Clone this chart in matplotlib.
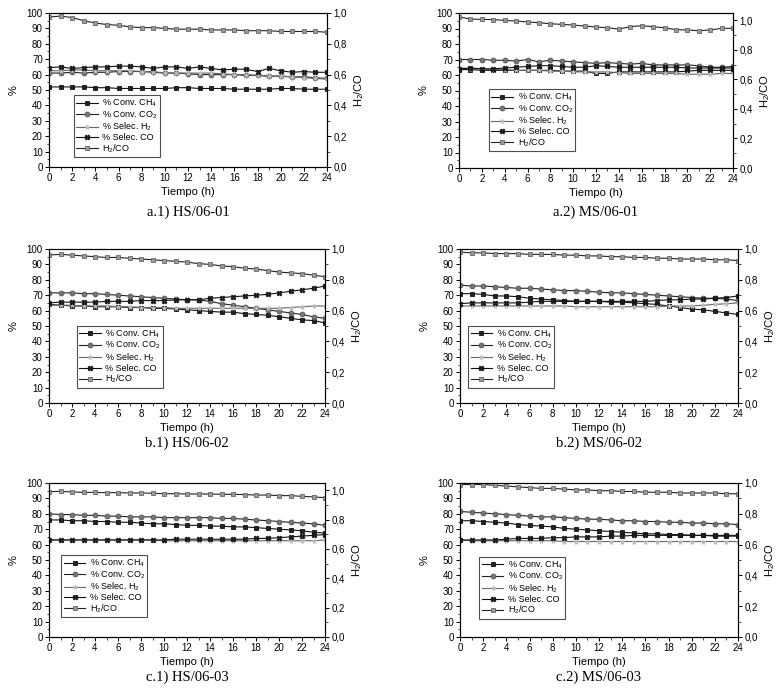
import matplotlib
matplotlib.use("Agg")
import matplotlib.pyplot as plt
from matplotlib.ticker import MultipleLocator, FuncFormatter

plt.rcParams['font.family'] = ['Liberation Sans', 'DejaVu Sans']
plt.rcParams['mathtext.fontset'] = 'custom'
plt.rcParams['mathtext.rm'] = 'Liberation Sans'
plt.rcParams['mathtext.it'] = 'Liberation Sans'

horas = list(range(25))

# a.1) HS/06-01
a1_ch4 = [52, 52, 52, 52, 51.5, 51.5, 51, 51, 51, 51, 51, 51.5, 51.5, 51, 51, 51, 50.5, 50.5, 50.5, 50.5, 51, 51, 50.5, 50.5, 50.5]
a1_co2 = [61, 61, 61.5, 61, 61.5, 61.5, 62, 62, 62, 61.5, 61, 61, 60.5, 60, 60, 60, 60, 59.5, 59.5, 59, 59, 58.5, 58.5, 58, 57.5]
a1_h2 = [62.5, 62.5, 63, 63, 62.5, 62.5, 62.5, 62.5, 62, 62, 61, 61, 61, 61, 61, 60.5, 60, 60, 59.5, 59, 59, 58.5, 58, 57.5, 57]
a1_co = [64.5, 65, 64, 64.5, 65, 65, 65.5, 65.5, 65, 64, 65, 65, 64, 65, 64, 63, 63.5, 63.5, 62, 64, 62.5, 61.5, 62, 61.5, 61.5]
a1_ratio = [0.974, 0.98, 0.97, 0.95, 0.935, 0.925, 0.92, 0.91, 0.905, 0.905, 0.90, 0.895, 0.895, 0.895, 0.89, 0.89, 0.89, 0.885, 0.885, 0.885, 0.88, 0.88, 0.88, 0.88, 0.875]

# a.2) MS/06-01
a2_ch4 = [63.5, 63.5, 63, 63, 63, 63, 63, 63, 63, 62.5, 62.5, 62.5, 61, 61, 62, 62, 62, 62, 62, 62, 62.5, 63, 63, 63, 63]
a2_co2 = [70, 70, 70, 69.5, 69.5, 69, 70, 68.5, 69.5, 69, 68.5, 68, 67.5, 68, 67.5, 67, 67.5, 66.5, 66.5, 66.5, 66.5, 66, 65, 65, 65.5]
a2_h2 = [64.5, 64, 64, 63.5, 63.5, 63, 63, 63, 62.5, 62.5, 62, 62, 62, 62, 61.5, 61, 61, 61, 61, 61, 60.5, 60.5, 60.5, 61, 61]
a2_co = [64, 64.5, 64, 64, 64.5, 65, 65.5, 66, 66, 65.5, 65, 65, 66, 65.5, 65, 65, 65, 65, 65, 65, 64.5, 64.5, 64.5, 64.5, 64.5]
a2_ratio = [1.023, 1.009, 1.007, 1.005, 1.0, 0.996, 0.989, 0.984, 0.977, 0.973, 0.968, 0.962, 0.955, 0.95, 0.941, 0.957, 0.964, 0.957, 0.95, 0.937, 0.935, 0.93, 0.935, 0.946, 0.946]

# b.1) HS/06-02
b1_ch4 = [64, 63.5, 63, 63, 62.5, 62.5, 62.5, 62, 62, 61.5, 61.5, 61, 60.5, 60, 59.5, 59, 59, 58, 57.5, 57, 56, 55, 54, 53.5, 52]
b1_co2 = [71.5, 71.5, 71.5, 71, 71, 70.5, 70, 69.5, 69, 68.5, 68, 67.5, 67, 67, 66, 64.5, 63.5, 62.5, 61.5, 60.5, 59.5, 58.5, 57.5, 56, 55]
b1_h2 = [63.5, 63.5, 63.5, 63, 63, 63, 62.5, 62.5, 62, 62, 62, 61.5, 61.5, 61.5, 61.5, 61.5, 61.5, 61.5, 61.5, 61.5, 61.5, 62, 62.5, 63, 63]
b1_co = [65, 65.5, 65.5, 65.5, 65.5, 66, 66, 66, 66.5, 66.5, 66.5, 67, 67, 67, 68, 68.5, 69, 69.5, 70, 70.5, 71.5, 72.5, 73.5, 74.5, 76]
b1_ratio = [0.961, 0.965, 0.96, 0.955, 0.95, 0.945, 0.945, 0.94, 0.935, 0.93, 0.925, 0.92, 0.915, 0.905, 0.90, 0.89, 0.885, 0.875, 0.87, 0.86, 0.85, 0.845, 0.84, 0.83, 0.82]

# b.2) MS/06-02
b2_ch4 = [71, 71, 70.5, 69.5, 69.5, 69, 68, 67.5, 67, 66.5, 66, 66, 66, 65.5, 65.5, 65, 64.5, 64, 63, 62, 61, 60.5, 59.5, 58.5, 57.5]
b2_co2 = [76.5, 76, 76, 75.5, 75, 74.5, 74.5, 74, 73.5, 73, 73, 72.5, 72, 71.5, 71.5, 71, 70.5, 70, 69.5, 69, 68.5, 68, 68, 67.5, 66.5]
b2_h2 = [63, 63, 63, 63, 63, 63, 63, 63, 63, 63, 62.5, 62.5, 62.5, 62.5, 62.5, 62.5, 62.5, 62.5, 63, 63, 63, 63.5, 64, 64.5, 65]
b2_co = [64.5, 65, 65, 65, 65, 65, 65.5, 66, 66, 66, 66, 66, 66, 66, 66, 66, 66, 66.5, 67, 67, 67.5, 67.5, 68, 68.5, 69.5]
b2_ratio = [0.98, 0.975, 0.975, 0.97, 0.97, 0.97, 0.965, 0.965, 0.965, 0.96, 0.96, 0.955, 0.955, 0.95, 0.95, 0.945, 0.945, 0.94, 0.94, 0.935, 0.935, 0.935, 0.93, 0.93, 0.925]

# c.1) HS/06-03
c1_ch4 = [76, 76, 75.5, 75.5, 75, 75, 74.5, 74.5, 74, 73.5, 73.5, 73, 72.5, 72.5, 72, 72, 71.5, 71.5, 71, 70.5, 70, 69.5, 69, 68, 67.5]
c1_co2 = [80, 79.5, 79.5, 79, 79, 78.5, 78.5, 78, 78, 78, 77.5, 77.5, 77.5, 77.5, 77.5, 77, 77, 76.5, 76, 75.5, 75, 74.5, 74, 73.5, 72.5]
c1_h2 = [63, 63, 63, 63, 63, 63, 63, 63, 63, 63, 62.5, 62.5, 62.5, 62.5, 62.5, 62.5, 62.5, 62.5, 62.5, 62.5, 62.5, 62.5, 62.5, 62.5, 63]
c1_co = [63, 63, 63, 63, 63, 63, 63, 63, 63, 63, 63, 63.5, 63.5, 63.5, 63.5, 63.5, 63.5, 63.5, 64, 64, 64.5, 65, 65.5, 66, 66.5]
c1_ratio = [0.991, 0.993, 0.989, 0.986, 0.986, 0.984, 0.984, 0.982, 0.982, 0.98, 0.977, 0.977, 0.975, 0.975, 0.975, 0.973, 0.973, 0.971, 0.968, 0.968, 0.964, 0.964, 0.959, 0.955, 0.95]

# c.2) MS/06-03
c2_ch4 = [75.5, 75.5, 75, 74.5, 74, 73, 72.5, 72, 71.5, 70.5, 70, 69.5, 69, 68.5, 68, 67.5, 67, 67, 66.5, 66.5, 66, 66, 65.5, 65.5, 65.5]
c2_co2 = [81.5, 81, 80.5, 80, 79.5, 79, 78.5, 78, 78, 77.5, 77, 76.5, 76.5, 76, 75.5, 75.5, 75, 75, 74.5, 74.5, 74, 74, 73.5, 73.5, 73]
c2_h2 = [63, 62.5, 62.5, 62.5, 62.5, 62.5, 62.5, 62.5, 62.5, 62, 62, 62, 62, 62, 62, 62, 62, 62, 62, 62, 62, 62, 62, 62, 62]
c2_co = [63, 63, 63, 63, 63.5, 64, 64, 64, 64.5, 64.5, 65, 65, 65, 65.5, 65.5, 66, 66, 66, 66, 66, 66, 66, 66, 66, 66]
c2_ratio = [0.99, 0.99, 0.99, 0.985, 0.98, 0.975, 0.97, 0.965, 0.965, 0.96, 0.955, 0.955, 0.95, 0.95, 0.945, 0.945, 0.94, 0.94, 0.94, 0.935, 0.935, 0.935, 0.935, 0.93, 0.93]

etiquetas = ['% Conv. CH$_4$', '% Conv. CO$_2$', '% Selec. H$_2$', '% Selec. CO', 'H$_2$/CO']
titulos = ['a.1) HS/06-01', 'a.2) MS/06-01', 'b.1) HS/06-02',
           'b.2) MS/06-02', 'c.1) HS/06-03', 'c.2) MS/06-03']

paneles = [
    (a1_ch4, a1_co2, a1_h2, a1_co, a1_ratio),
    (a2_ch4, a2_co2, a2_h2, a2_co, a2_ratio),
    (b1_ch4, b1_co2, b1_h2, b1_co, b1_ratio),
    (b2_ch4, b2_co2, b2_h2, b2_co, b2_ratio),
    (c1_ch4, c1_co2, c1_h2, c1_co, c1_ratio),
    (c2_ch4, c2_co2, c2_h2, c2_co, c2_ratio),
]

# cajas en pixeles (izq, arriba, der, abajo)
W, H = 782, 691
cajas = [(49, 13, 327, 167), (459, 13, 733, 168),
         (49, 249, 325, 403), (460, 249, 738, 403),
         (49, 483, 325, 637), (460, 483, 738, 637)]
ymax_der = [1.0, 1.05, 1.0, 1.0, 1.05, 1.0]
ley_pos = [(0.09, 0.065), (0.11, 0.11), (0.10, 0.10),
           (0.03, 0.10), (0.045, 0.13), (0.07, 0.12)]
tit_y = [212, 443, 677]

estilos = [
    dict(marker='s', color='#111111', mfc='#222222', mec='#111111'),
    dict(marker='o', color='#222222', mfc='#777777', mec='#555555'),
    dict(marker='*', color='#666666', mfc='#c4c4c4', mec='#bbbbbb'),
    dict(marker='X', color='#111111', mfc='#222222', mec='#111111'),
    dict(marker='s', color='#222222', mfc='#9a9a9a', mec='#666666'),
]

coma = FuncFormatter(lambda v, p: ('%.1f' % v).replace('.', ','))

fig = plt.figure(figsize=(W / 100, H / 100), dpi=100)
fs = 7

for i, datos in enumerate(paneles):
    l, t, r, b = cajas[i]
    ax = fig.add_axes([l / W, 1 - b / H, (r - l) / W, (b - t) / H])
    ax2 = ax.twinx()
    lineas = []
    for j in range(4):
        ln, = ax.plot(horas, datos[j], lw=0.8, ms=3.5, mew=0.6, **estilos[j])
        lineas.append(ln)
    ln, = ax2.plot(horas, datos[4], lw=0.8, ms=3.5, mew=0.6, **estilos[4])
    lineas.append(ln)

    ax.set_xlim(0, 24)
    ax.set_ylim(0, 100)
    ax2.set_ylim(0, ymax_der[i])
    ax.xaxis.set_major_locator(MultipleLocator(2))
    ax.xaxis.set_minor_locator(MultipleLocator(1))
    ax.yaxis.set_major_locator(MultipleLocator(10))
    ax.yaxis.set_minor_locator(MultipleLocator(5))
    ax2.yaxis.set_major_locator(MultipleLocator(0.2))
    ax2.yaxis.set_minor_locator(MultipleLocator(0.1))
    ax2.yaxis.set_major_formatter(coma)
    for a in (ax, ax2):
        a.tick_params(which='major', direction='out', length=3, width=0.7, labelsize=fs, pad=1.5)
        a.tick_params(which='minor', direction='out', length=1.8, width=0.5)
        for s in a.spines.values():
            s.set_linewidth(0.8)
    ax.set_xlabel('Tiempo (h)', fontsize=8, labelpad=3)
    ax.set_ylabel('%', fontsize=8, labelpad=6)
    ax2.set_ylabel('H$_2$/CO', fontsize=8, labelpad=4)

    ley = ax.legend(lineas, etiquetas, loc='lower left', bbox_to_anchor=ley_pos[i],
                    fontsize=6.5, frameon=True, fancybox=False, edgecolor='#222222',
                    handlelength=2.4, handletextpad=0.5, borderpad=0.25,
                    labelspacing=0.0, borderaxespad=0)
    ley.get_frame().set_linewidth(0.8)

    cx = (l + r) / 2 / W
    fig.text(cx, 1 - tit_y[i // 2] / H, titulos[i], ha='center', va='center',
             fontsize=10.5, family='Liberation Serif')

fig.savefig('out.png', dpi=100)
